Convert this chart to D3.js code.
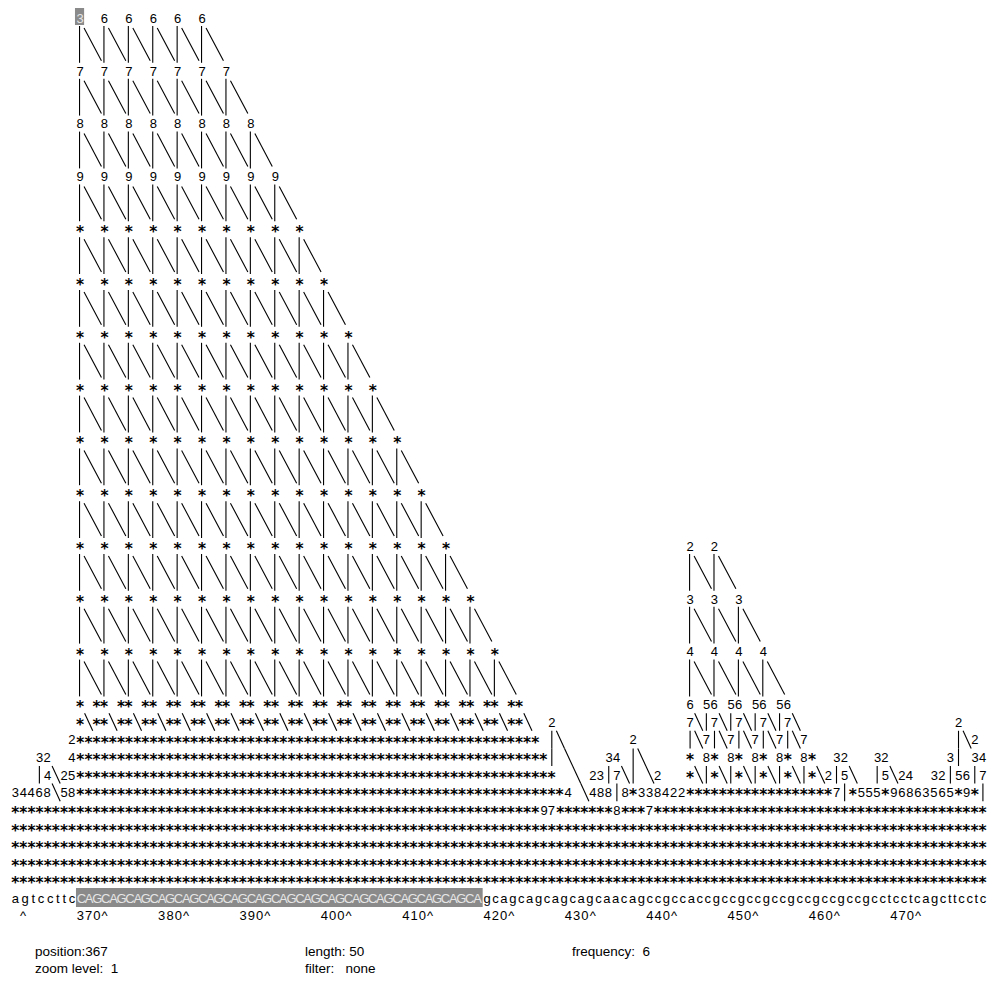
<!DOCTYPE html>
<html>
<head>
<meta charset="utf-8">
<script src="https://cdn.jsdelivr.net/npm/d3@7"></script>
<style>
body{margin:0;background:#fff}
text{font-family:"Liberation Sans",Arial,sans-serif;font-size:13px;fill:#000}
text.star{font-family:"DejaVu Sans";font-weight:bold;font-size:15.5px}
text.info{white-space:pre;font-size:13.5px}
</style>
</head>
<body>
<div id="chart"></div>
<script>
var width = 997, height = 984
var cw = 8.134, lh = 17.6

// bottom sequence, first letter is position 359
var seqStart = 359
var sequence = "agtccttc" +
  "CAGCAGCAGCAGCAGCAGCAGCAGCAGCAGCAGCAGCAGCAGCAGCAGCA" +
  "gcagcagcagcagcaacagccgccacc" +
  "gccgccgccgccgccgccgcc" +
  "tcctcagcttcctc"
var highlightPos = 367, highlightLen = 50
var tickValues = [360, 370, 380, 390, 400, 410, 420, 430, 440, 450, 460, 470]

// big triangle of the CAG repeat (first node of the top row is the cursor)
var mainLabels = ["6","7","8","9","*","*","*","*","*","*","*","*","*"]
var mainCounts = [6,7,8,9,10,11,12,13,14,15,16,17,18]
var cursorLabel = "3"
var mainCol = 8, mainRow = 0
// small triangle (gcc repeat)
var subLabels = ["2","3","4"]
var subCounts = [2,3,4]
var subCol = 83, subRow = 30

// lower rows as text: [row, column, text]
var pairs6 = " ** ** ** ** ** **"
var slash6 = "**\\**\\**\\**\\**\\**\\"
var textRows = [
  [39, 8, "*" + pairs6 + pairs6 + pairs6],
  [39, 83, "6 56 56 56 56"],
  [40, 8, "*\\" + slash6 + slash6 + slash6],
  [40, 66, "2"],
  [40, 83, "7\\|7\\|7\\|7\\|7\\"],
  [40, 116, "2"],
  [41, 7, "2*********************************************************"],
  [41, 66, "|\\"],
  [41, 76, "2"],
  [41, 83, "|\\7|\\7|\\7|\\7|\\7"],
  [41, 116, "|\\2"],
  [42, 3, "32"],
  [42, 7, "4**********************************************************"],
  [42, 66, "| \\"],
  [42, 73, "34"],
  [42, 76, "|\\"],
  [42, 83, "* 8* 8* 8* 8* 8*"],
  [42, 101, "32"],
  [42, 106, "32"],
  [42, 115, "3|"],
  [42, 118, "34"],
  [43, 3, "|4\\25***********************************************************"],
  [43, 69, "\\"],
  [43, 71, "23|7\\| \\2"],
  [43, 83, "*\\|*\\|*\\|*\\|*\\|*\\2|5\\"],
  [43, 106, "|5\\24"],
  [43, 113, "32|56|7"],
  [44, 0, "34468\\58************************************************************4"],
  [44, 70, "\\488|8*338422"],
  [44, 83, "******************"],
  [44, 101, "7|*555*96863565*9*|"],
  [45, 0, "*****************************************************************97*******8***7*****************************************"],
  [46, 0, "************************************************************************************************************************"],
  [47, 0, "************************************************************************************************************************"],
  [48, 0, "************************************************************************************************************************"],
  [49, 0, "************************************************************************************************************************"]
]

var info = [
  {x: 35, y: 956, t: "position:367"},
  {x: 35, y: 973, t: "zoom level:  1"},
  {x: 305, y: 956, t: "length: 50"},
  {x: 305, y: 973, t: "filter:   none"},
  {x: 572, y: 956, t: "frequency:  6"}
]

var svg = d3.select("#chart").append("svg")
  .attr("width", width)
  .attr("height", height)

var x = d3.scaleLinear().domain([0, 120]).range([10.9, 10.9 + 120 * cw])
var y = d3.scaleLinear().domain([0, 51]).range([18, 18 + 51 * lh])
function cx(c) { return x(c + 0.5) }

// collect every character cell
var cells = []
var lines = []

function addText(row, col, str, light) {
  for (var i = 0; i < str.length; i++) {
    var ch = str[i]
    if (ch == " ") continue
    var c = col + i
    if (ch == "|") {
      lines.push({x1: cx(c), y1: y(row) - lh / 2, x2: cx(c), y2: y(row) + lh / 2})
    } else if (ch == "\\") {
      lines.push({x1: x(c) + 0.5, y1: y(row) - lh / 2, x2: x(c + 1) + 0.5, y2: y(row) + lh / 2})
    } else {
      cells.push({row: row, col: c, ch: ch, light: !!light})
    }
  }
}

function triangle(labels, counts, col0, row0, first) {
  labels.forEach(function(lab, k) {
    var r = row0 + 3 * k
    d3.range(counts[k]).forEach(function(j) {
      var c = col0 + 3 * j
      var cursor = first && k == 0 && j == 0
      addText(r, c, cursor ? first : lab, cursor)
      // down to the next level
      lines.push({x1: cx(c) - 0.5, y1: y(r) + 8, x2: cx(c) - 0.5, y2: y(r + 3) - 8})
      lines.push({x1: cx(c) + 4, y1: y(r) + 10, x2: cx(c + 3) - 3, y2: y(r + 3) - 10})
    })
  })
}

triangle(mainLabels, mainCounts, mainCol, mainRow, cursorLabel)
triangle(subLabels, subCounts, subCol, subRow)
textRows.forEach(function(d) { addText(d[0], d[1], d[2]) })

// sequence row, pale inside the highlighted stretch
sequence.split("").forEach(function(ch, i) {
  var p = seqStart + i
  addText(50, i, ch, p >= highlightPos && p < highlightPos + highlightLen)
})

// ticks under the sequence
tickValues.forEach(function(p) {
  var label = p + "^"
  var start = p - seqStart - 3
  if (start < 0) { label = "^"; start = p - seqStart }
  addText(51, start, label)
})

// merge neighbouring cells of the same kind into runs
var runs = []
d3.groups(cells, function(d) { return d.row }).forEach(function(g) {
  var row = g[0], list = g[1].sort(function(a, b) { return a.col - b.col })
  var cur = null
  list.forEach(function(d) {
    var star = d.ch == "*"
    if (cur && d.col == cur.col + cur.s.length && cur.star == star && cur.light == d.light) {
      cur.s += d.ch
    } else {
      cur = {row: row, col: d.col, s: d.ch, star: star, light: d.light}
      runs.push(cur)
    }
  })
})

// highlight boxes
svg.append("rect")
  .attr("x", x(highlightPos - seqStart))
  .attr("y", 888)
  .attr("width", highlightLen * cw)
  .attr("height", 19)
  .attr("fill", "#8a8a8a")
svg.append("rect")
  .attr("x", x(mainCol) - 1)
  .attr("y", 8)
  .attr("width", cw + 1)
  .attr("height", 17)
  .attr("fill", "#8a8a8a")

svg.append("g")
  .selectAll("line")
  .data(lines)
  .enter()
  .append("line")
  .attr("x1", function(d) { return d.x1 })
  .attr("y1", function(d) { return d.y1 })
  .attr("x2", function(d) { return d.x2 })
  .attr("y2", function(d) { return d.y2 })
  .attr("stroke", "#000")
  .attr("stroke-width", 1.1)

var t = svg.append("g")
  .selectAll("text")
  .data(runs)
  .enter()
  .append("text")
  .attr("class", function(d) { return d.star ? "star" : null })
  .attr("y", function(d) { return d.star ? y(d.row) + 8 : y(d.row) + 4.7 })
  .style("fill", function(d) { return d.light ? "#e6e6e6" : "#000" })
  .text(function(d) { return d.s })

t.filter(function(d) { return d.s.length == 1 })
  .attr("x", function(d) { return cx(d.col) })
  .attr("text-anchor", "middle")

t.filter(function(d) { return d.s.length > 1 })
  .attr("x", function(d) { return x(d.col) + (d.star ? 0.3 : 0.8) })
  .attr("textLength", function(d) { return d.s.length * cw - (d.star ? 0.6 : 1.6) })
  .attr("lengthAdjust", "spacing")

svg.append("g")
  .selectAll("text")
  .data(info)
  .enter()
  .append("text")
  .attr("class", "info")
  .attr("x", function(d) { return d.x })
  .attr("y", function(d) { return d.y })
  .attr("xml:space", "preserve")
  .text(function(d) { return d.t })
</script>
</body>
</html>
